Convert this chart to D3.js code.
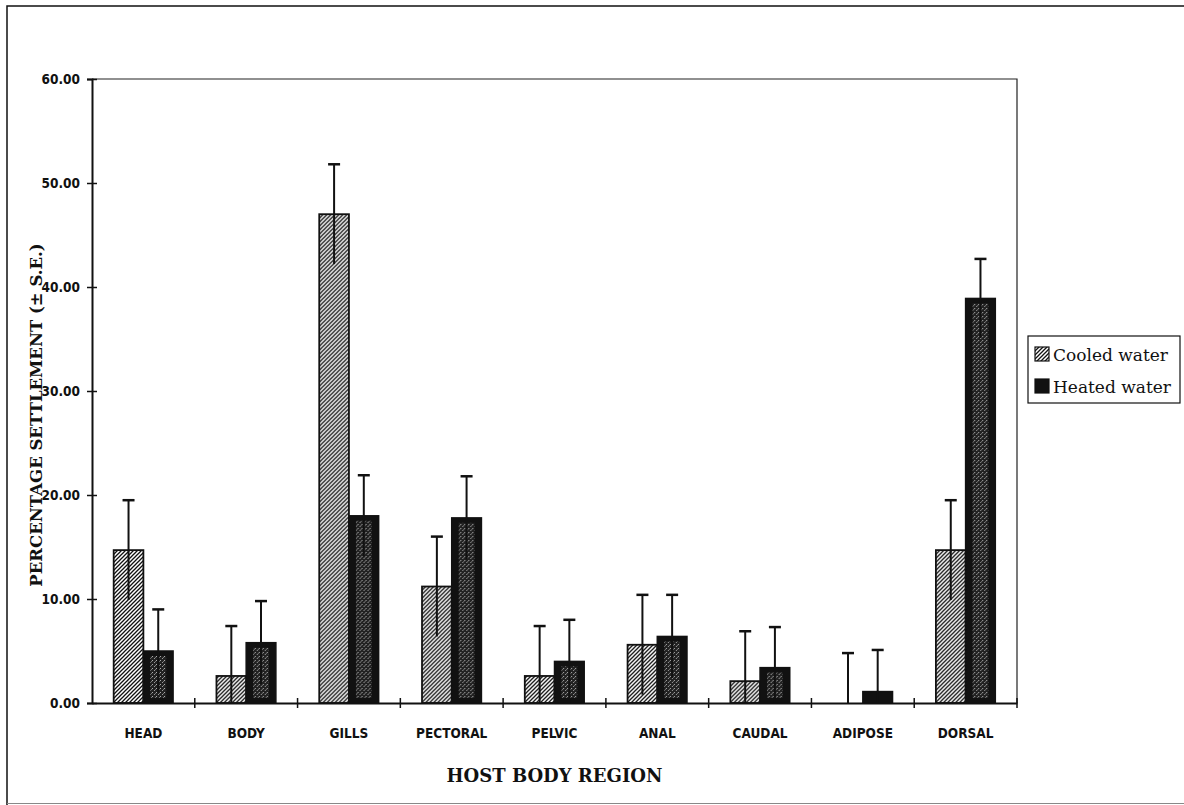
<!DOCTYPE html>
<html>
<head>
<meta charset="utf-8">
<script src="https://cdnjs.cloudflare.com/ajax/libs/d3/7.8.5/d3.min.js"></script>
<style>
  body { margin: 0; background: #fff; }
  svg { display: block; }
</style>
</head>
<body>
<div id="chart"></div>
<script>
// data
var regions = ["HEAD", "BODY", "GILLS", "PECTORAL", "PELVIC", "ANAL", "CAUDAL", "ADIPOSE", "DORSAL"];
var cooledMean = [14.7, 2.6, 47.0, 11.2, 2.6, 5.6, 2.1, 0.0, 14.7];
var cooledSE   = [4.8, 4.8, 4.8, 4.8, 4.8, 4.8, 4.8, 4.8, 4.8];
var heatedMean = [5.0, 5.8, 18.0, 17.8, 4.0, 6.4, 3.4, 1.1, 38.9];
var heatedSE   = [4.0, 4.0, 3.9, 4.0, 4.0, 4.0, 3.9, 4.0, 3.8];
var yTicks = [0, 10, 20, 30, 40, 50, 60];
var seriesNames = ["Cooled water", "Heated water"];

var W = 1184, H = 805;
var pLeft = 92, pRight = 1017, pTop = 79, pBottom = 703;

var svg = d3.select("#chart").append("svg")
    .attr("width", W)
    .attr("height", H);

// patterns
var defs = svg.append("defs");
var hatch = defs.append("pattern")
    .attr("id", "hatch")
    .attr("patternUnits", "userSpaceOnUse")
    .attr("width", 4)
    .attr("height", 4);
hatch.append("rect").attr("width", 4).attr("height", 4).attr("fill", "#fff");
hatch.append("path")
    .attr("d", "M0,4 L4,0 M-1,1 L1,-1 M3,5 L5,3")
    .attr("stroke", "#111")
    .attr("stroke-width", 1.3);

var speck = defs.append("pattern")
    .attr("id", "speck")
    .attr("patternUnits", "userSpaceOnUse")
    .attr("width", 4)
    .attr("height", 4);
speck.append("rect").attr("width", 4).attr("height", 4).attr("fill", "#222");
speck.append("rect").attr("x", 0).attr("y", 0).attr("width", 1).attr("height", 1).attr("fill", "#aaa");
speck.append("rect").attr("x", 2).attr("y", 2).attr("width", 1).attr("height", 1).attr("fill", "#999");
speck.append("rect").attr("x", 3).attr("y", 1).attr("width", 1).attr("height", 1).attr("fill", "#777");

// outer frame
svg.append("path")
    .attr("d", "M7," + H + " L7,6 L" + W + ",6")
    .attr("fill", "none")
    .attr("stroke", "#111")
    .attr("stroke-width", 1.5);
svg.append("line")
    .attr("x1", 7).attr("x2", W)
    .attr("y1", 803.5).attr("y2", 803.5)
    .attr("stroke", "#888")
    .attr("stroke-width", 1);

// scales
var x0 = d3.scaleBand().domain(regions).range([pLeft, pRight]).paddingInner(0).paddingOuter(0);
var x1 = d3.scaleBand().domain(["cooled", "heated"]).range([0, x0.bandwidth()]).paddingInner(0).paddingOuter(0.73);
var y = d3.scaleLinear().domain([0, 60]).range([pBottom, pTop]);

// plot frame (top and right)
svg.append("path")
    .attr("d", "M" + pLeft + "," + pTop + " L" + pRight + "," + pTop + " L" + pRight + "," + pBottom)
    .attr("fill", "none")
    .attr("stroke", "#222")
    .attr("stroke-width", 1.2);

// bars
var rows = regions.map(function(r, i) {
    return {region: r, cooled: cooledMean[i], cse: cooledSE[i], heated: heatedMean[i], hse: heatedSE[i]};
});

var groups = svg.append("g").attr("class", "bars")
    .selectAll("g.region")
    .data(rows)
    .enter()
    .append("g")
    .attr("class", "region")
    .attr("transform", function(d) { return "translate(" + x0(d.region) + ",0)"; });

// cooled bars: hatched
groups.filter(function(d) { return d.cooled > 0; })
    .append("rect")
    .attr("x", x1("cooled"))
    .attr("y", function(d) { return y(d.cooled); })
    .attr("width", x1.bandwidth())
    .attr("height", function(d) { return y(0) - y(d.cooled); })
    .attr("fill", "url(#hatch)")
    .attr("stroke", "#111")
    .attr("stroke-width", 1.8);

// heated bars: black with speckled core
groups.append("rect")
    .attr("x", x1("heated"))
    .attr("y", function(d) { return y(d.heated); })
    .attr("width", x1.bandwidth())
    .attr("height", function(d) { return y(0) - y(d.heated); })
    .attr("fill", "#111")
    .attr("stroke", "#111")
    .attr("stroke-width", 1.5);
groups.filter(function(d) { return y(0) - y(d.heated) > 12; })
    .append("rect")
    .attr("x", x1("heated") + 7)
    .attr("y", function(d) { return y(d.heated) + 5; })
    .attr("width", x1.bandwidth() - 14)
    .attr("height", function(d) { return y(0) - y(d.heated) - 10; })
    .attr("fill", "url(#speck)");

// error bars
function errBar(sel, key, seKey) {
    var cx = x1(key) + x1.bandwidth() / 2;
    sel.append("line")
        .attr("x1", cx).attr("x2", cx)
        .attr("y1", function(d) { return y(d[key] + d[seKey]); })
        .attr("y2", function(d) { return y(Math.max(0, d[key] - d[seKey])); })
        .attr("stroke", "#111")
        .attr("stroke-width", 2);
    sel.append("line")
        .attr("x1", cx - 6).attr("x2", cx + 6)
        .attr("y1", function(d) { return y(d[key] + d[seKey]); })
        .attr("y2", function(d) { return y(d[key] + d[seKey]); })
        .attr("stroke", "#111")
        .attr("stroke-width", 2.5);
}
errBar(groups, "cooled", "cse");
errBar(groups, "heated", "hse");

// y axis
var yAxis = svg.append("g")
    .attr("transform", "translate(" + pLeft + ",0)")
    .call(d3.axisLeft(y).tickValues(yTicks).tickSize(5).tickPadding(7).tickFormat(d3.format(".2f")));
yAxis.select(".domain").attr("stroke", "#111").attr("stroke-width", 2);
yAxis.selectAll(".tick line").attr("x1", 5).attr("stroke", "#111").attr("stroke-width", 1.5);
yAxis.selectAll(".tick text")
    .style("font-family", "'DejaVu Sans Condensed', 'DejaVu Sans', sans-serif")
    .style("font-weight", "bold")
    .style("font-size", "13.5px")
    .attr("fill", "#111");

// x axis
var xAxis = svg.append("g")
    .attr("transform", "translate(0," + pBottom + ")")
    .call(d3.axisBottom(x0).tickSize(0).tickPadding(25));
xAxis.select(".domain").attr("stroke", "#111").attr("stroke-width", 2);
xAxis.selectAll(".tick text")
    .style("font-family", "'DejaVu Sans Condensed', 'DejaVu Sans', sans-serif")
    .style("font-weight", "bold")
    .style("font-size", "13.5px")
    .attr("fill", "#111");

// boundary ticks between regions
var bounds = regions.slice(1).map(function(r) { return x0(r); }).concat([pRight]);
svg.append("g").selectAll("line")
    .data(bounds)
    .enter()
    .append("line")
    .attr("x1", function(d) { return d; })
    .attr("x2", function(d) { return d; })
    .attr("y1", pBottom - 5)
    .attr("y2", pBottom + 5)
    .attr("stroke", "#111")
    .attr("stroke-width", 1.5);

// axis titles
svg.append("text")
    .attr("x", (pLeft + pRight) / 2)
    .attr("y", 782)
    .attr("text-anchor", "middle")
    .style("font-family", "'DejaVu Serif', serif")
    .style("font-weight", "bold")
    .style("font-size", "18px")
    .attr("fill", "#111")
    .text("HOST BODY REGION");

svg.append("text")
    .attr("transform", "translate(42,415) rotate(-90)")
    .attr("text-anchor", "middle")
    .style("font-family", "'DejaVu Serif', serif")
    .style("font-weight", "bold")
    .style("font-size", "16.5px")
    .attr("fill", "#111")
    .text("PERCENTAGE SETTLEMENT  (\u00b1 S.E.)");

// legend
var legend = svg.append("g").attr("class", "legend");
legend.append("rect")
    .attr("x", 1028).attr("y", 336)
    .attr("width", 152).attr("height", 67)
    .attr("fill", "#fff")
    .attr("stroke", "#111")
    .attr("stroke-width", 1.2);
var items = legend.selectAll("g.item")
    .data(seriesNames)
    .enter()
    .append("g")
    .attr("class", "item")
    .attr("transform", function(d, i) { return "translate(1035," + (347 + i * 32) + ")"; });
items.append("rect")
    .attr("width", 14).attr("height", 14)
    .attr("fill", function(d, i) { return i == 0 ? "url(#hatch)" : "#111"; })
    .attr("stroke", "#111")
    .attr("stroke-width", 1.2);
items.append("text")
    .attr("x", 18)
    .attr("y", 14)
    .style("font-family", "'DejaVu Serif', serif")
    .style("font-size", "17px")
    .attr("fill", "#111")
    .text(function(d) { return d; });
</script>
</body>
</html>
